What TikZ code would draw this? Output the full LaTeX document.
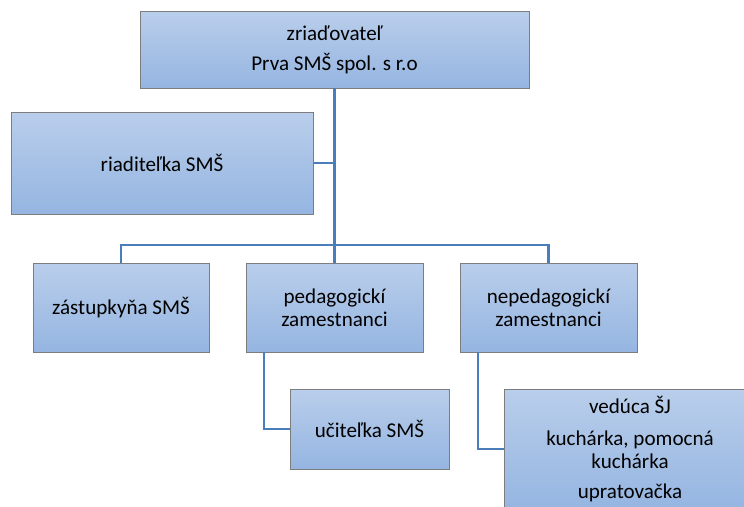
\documentclass[tikz,border=0pt]{standalone}
\usepackage{fontspec}
\setmainfont{Carlito}
\definecolor{boxtop}{RGB}{185,206,235}
\definecolor{boxbot}{RGB}{149,181,225}
\definecolor{linkblue}{RGB}{74,126,187}
\definecolor{boxedge}{RGB}{125,125,125}
\tikzset{
  unit/.style={draw=boxedge, top color=boxtop, bottom color=boxbot, align=center,
    inner sep=2pt, font=\fontsize{12}{13}\selectfont},
  link/.style={draw=linkblue, line width=1.2pt}
}
\begin{document}
\begin{tikzpicture}[x=0.02cm,y=-0.02cm]
  \useasboundingbox (0,0) rectangle (744,507);
  \clip (0,0) rectangle (744,507);
  % boxes (coordinates in px, y going down)
  \node[unit,minimum width=7.78cm,minimum height=1.54cm] (zriad) at (334.5,49.5)
    {\raisebox{-3pt}{zriaďovateľ}\\[4pt] \raisebox{-3pt}{Prva SMŠ spol. s r.o}};
  \node[unit,minimum width=6.04cm,minimum height=2.04cm] (riad) at (162,163) {riaditeľka SMŠ};
  \node[unit,minimum width=3.52cm,minimum height=1.78cm] (zast) at (121,307.5) {zástupkyňa SMŠ};
  \node[unit,minimum width=3.54cm,minimum height=1.78cm] (ped) at (334.5,307.5) {pedagogickí\\ zamestnanci};
  \node[unit,minimum width=3.54cm,minimum height=1.78cm] (neped) at (548.5,307.5) {nepedagogickí\\ zamestnanci};
  \node[unit,minimum width=3.18cm,minimum height=1.60cm] (ucit) at (369.5,429) {učiteľka SMŠ};
  \node[unit,minimum width=5.04cm,minimum height=2.40cm] (vedu) at (630,449)
    {vedúca ŠJ\\[5pt] kuchárka, pomocná\\ kuchárka\\[4pt] upratovačka};
  % connectors
  \coordinate (bus) at (334.5,245);
  \draw[link] (zriad.south) -- (ped.north);
  \draw[link] (riad.east) -- (riad.east -| zriad.south);
  \draw[link] (zast.north) |- (bus) -| (neped.north);
  \draw[link] ([xshift=0.36cm]ped.south west) |- (ucit.west);
  \draw[link] ([xshift=0.36cm]neped.south west) |- (vedu.west);
\end{tikzpicture}
\end{document}
